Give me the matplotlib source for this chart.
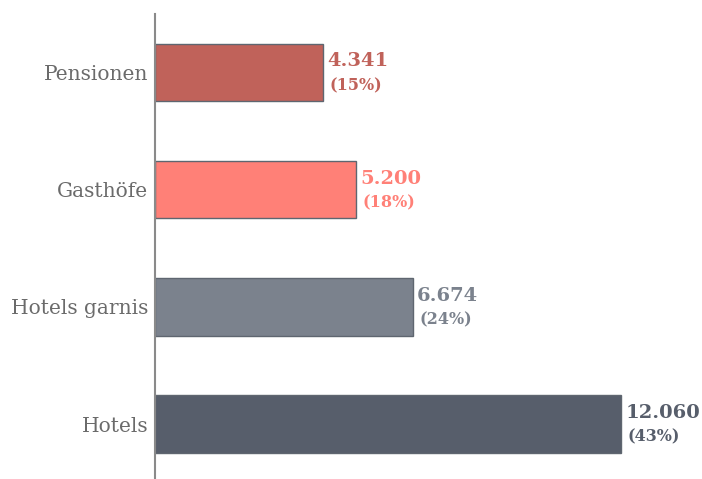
import matplotlib
matplotlib.use("Agg")
import matplotlib.pyplot as plt

categories = ["Hotels", "Hotels garnis", "Gasthöfe", "Pensionen"]
values = [12060, 6674, 5200, 4341]
value_labels = ["12.060", "6.674", "5.200", "4.341"]
pct_labels = ["(43%)", "(24%)", "(18%)", "(15%)"]
colors = ["#575E6B", "#7B828D", "#FF8077", "#C0625A"]

fig = plt.figure(figsize=(7.02, 4.79), dpi=100)
ax = fig.add_axes([155/702, 1/479, 1 - 155/702, 464/479])

y = list(range(len(categories)))
ax.barh(y, values, height=0.49, color=colors, edgecolor="#5f6670", linewidth=1.0, zorder=2)

ax.set_xlim(0, 14156)
ax.set_ylim(-0.46, 3.50)
ax.set_yticks(y)
ax.set_yticklabels(categories, fontsize=14.5, family="DejaVu Serif", color="#6b6b6b")
ax.tick_params(axis="y", length=0, pad=5)
ax.set_xticks([])
for s in ["top", "right", "bottom"]:
    ax.spines[s].set_visible(False)
ax.spines["left"].set_color("#8a8a8a")
ax.spines["left"].set_linewidth(1.5)

for yi, v, vl, pl, c in zip(y, values, value_labels, pct_labels, colors):
    ax.annotate(vl, (v, yi), xytext=(3, 8), textcoords="offset points",
                ha="left", va="center", fontsize=14, fontweight="bold",
                family="DejaVu Serif", color=c, annotation_clip=False)
    ax.annotate(pl, (v, yi), xytext=(5, -9.5), textcoords="offset points",
                ha="left", va="center", fontsize=11.5, fontweight="bold",
                family="DejaVu Serif", color=c, annotation_clip=False)

fig.savefig("out.png", dpi=100)
